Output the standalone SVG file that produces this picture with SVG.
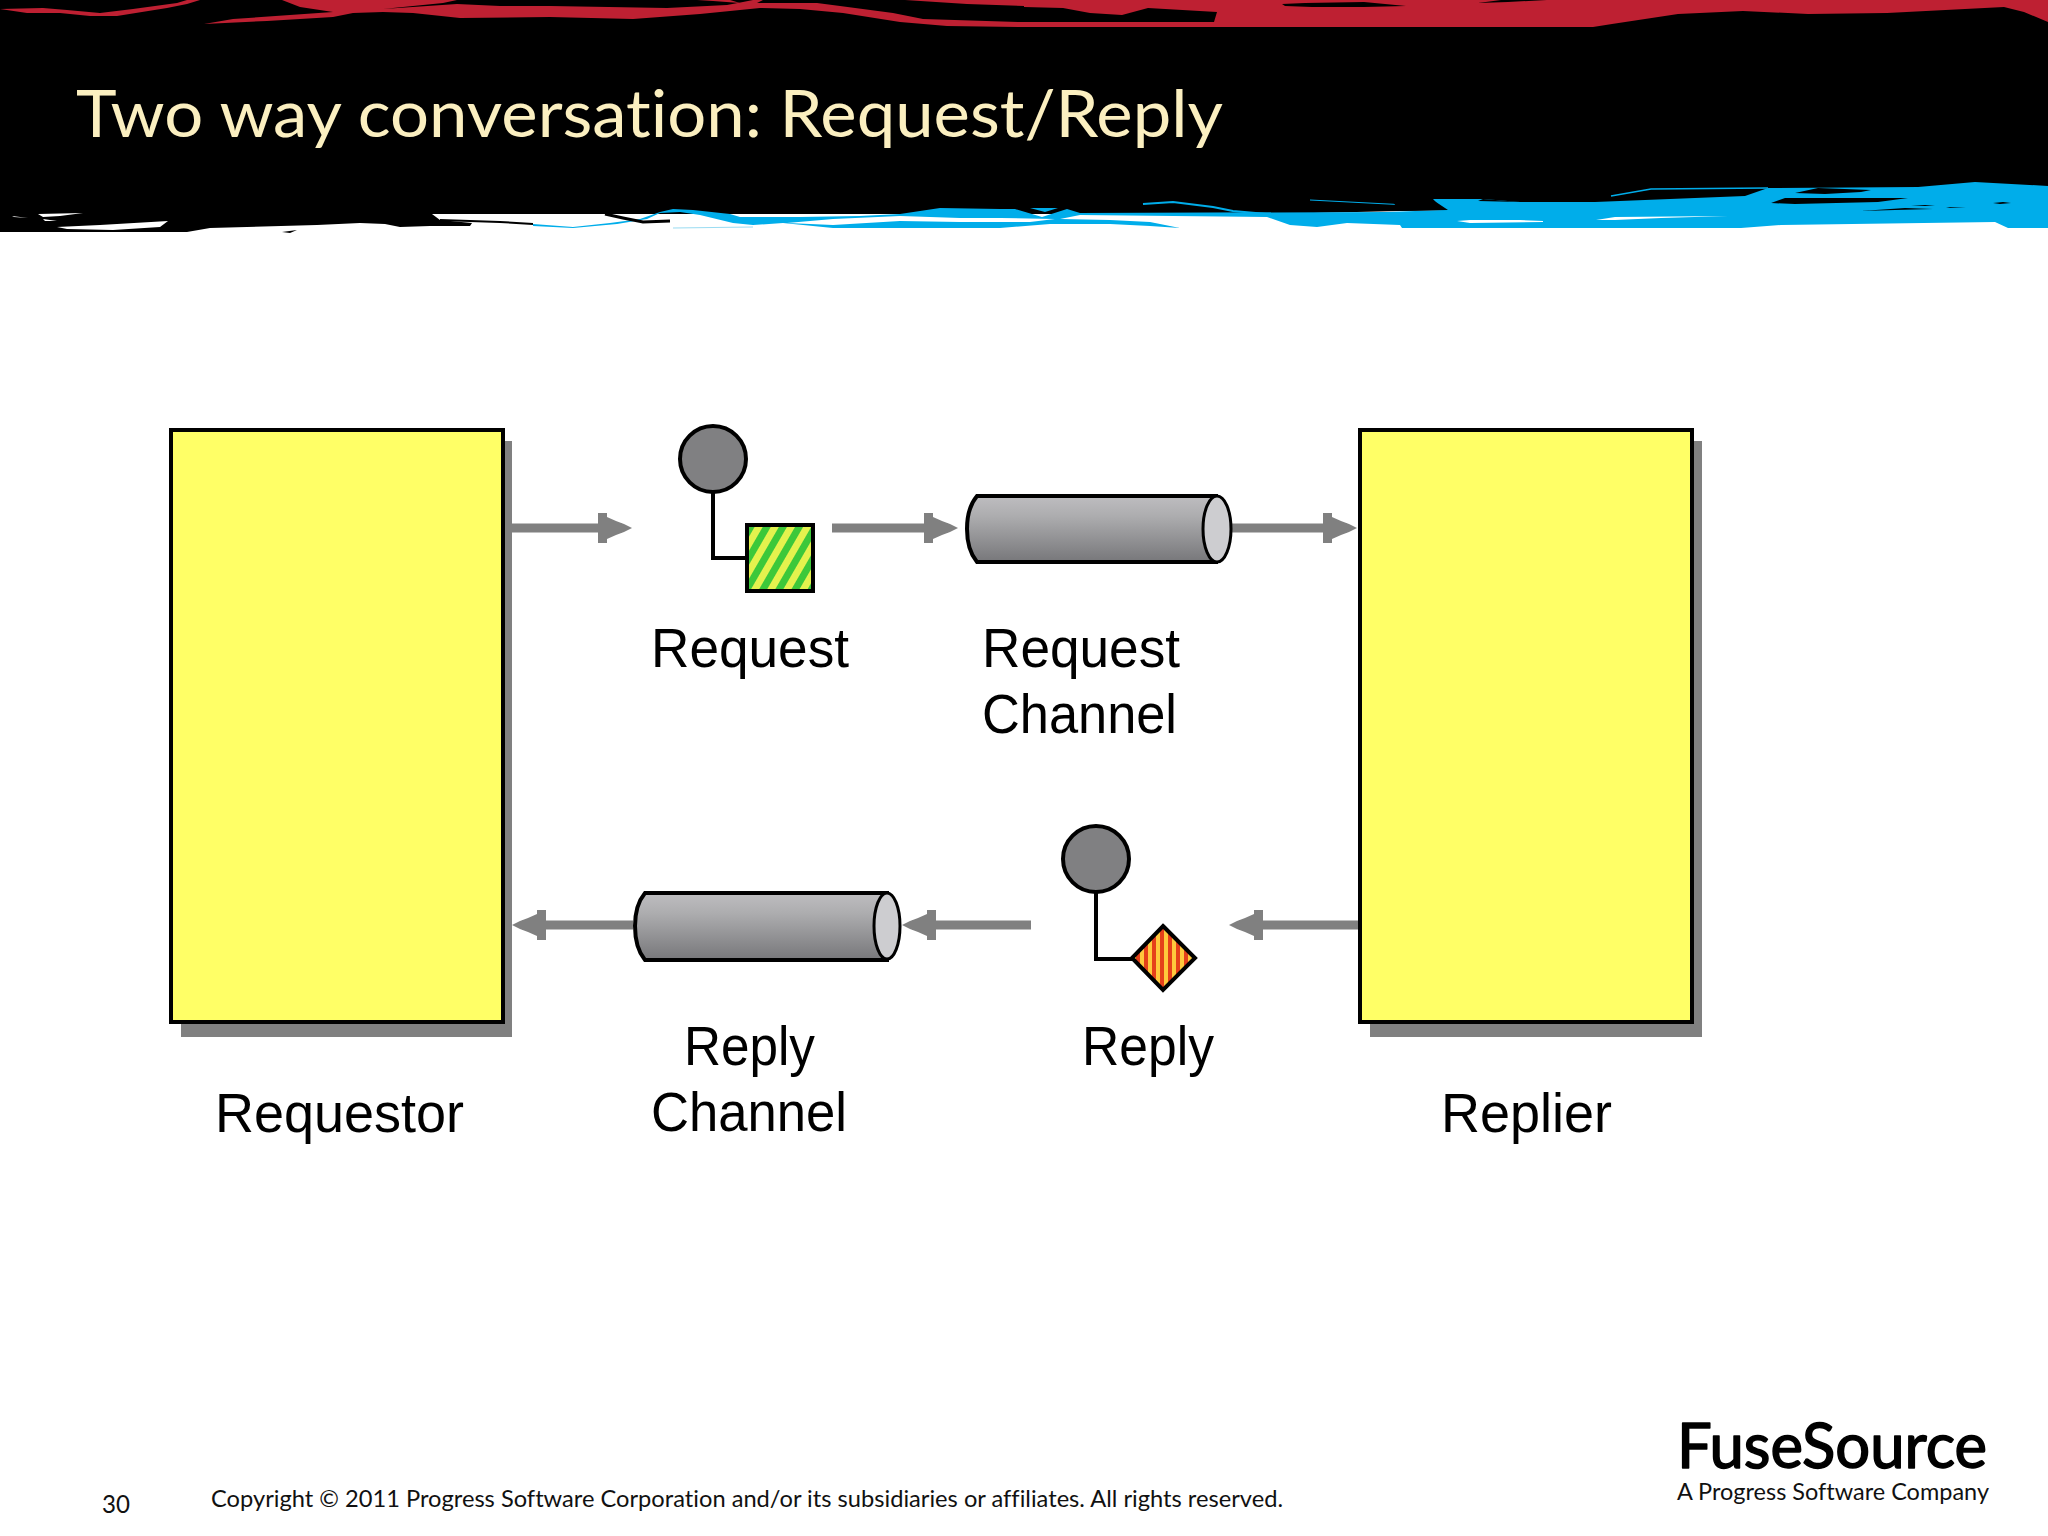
<svg xmlns="http://www.w3.org/2000/svg" width="2048" height="1536" viewBox="0 0 2048 1536">
<style>
text{font-variant-ligatures:none}
.box{fill:#FFFF66;stroke:#000;stroke-width:4}
.shadow{fill:#808080}
.thin{fill:none;stroke:#000;stroke-width:4}
.ball{fill:#808082;stroke:#000;stroke-width:4}
.tube{fill:url(#tube);stroke:#000;stroke-width:4}
.cap{fill:#CDCDD0;stroke:#000;stroke-width:3}
.conn{fill:none;stroke:#808080;stroke-width:9;marker-end:url(#head)}
.lbl{font-family:"Liberation Sans",Arial,sans-serif;font-size:55px;fill:#000}
.foot{font-family:Lato,"Liberation Sans",sans-serif;fill:#111}
.red{fill:#BE2032}
.blue{fill:#00ADEA}
.blk{fill:#000}
.wht{fill:#fff}
</style>
<defs>
<linearGradient id="tube" x1="0" y1="0" x2="0" y2="1"><stop offset="0" stop-color="#BEBDC0"/><stop offset="0.3" stop-color="#ADADAF"/><stop offset="1" stop-color="#77777A"/></linearGradient>
<pattern id="green" width="14" height="14" patternUnits="userSpaceOnUse" patternTransform="rotate(30)"><rect width="14" height="14" fill="#E4F24E"/><rect width="7" height="14" fill="#3CC83A"/></pattern>
<pattern id="orange" width="8" height="8" patternUnits="userSpaceOnUse"><rect width="8" height="8" fill="#FFC83C"/><rect width="4" height="8" fill="#E5401A"/></pattern>
<marker id="head" markerUnits="userSpaceOnUse" markerWidth="36" markerHeight="32" viewBox="0 0 36 32" refX="24" refY="16" orient="auto"><polygon points="0,1 9,1 9,5 18,9 26,12 34,16 26,20 18,23 9,27 9,31 0,31" fill="#808080"/></marker>
</defs>
<rect width="2048" height="1536" fill="#fff"/>
<g id="banner">
<path class="blk" d="M0 0H2048V200L1400 211 1267 214H432L440 220 472 223 470 226 430 226 400 227 385 224 360 223 317 225 210 228 187 232H0Z"/>
<path class="red" d="M0 9 43 8 67 10 100 13 133 9 177 3 187 0H200L187 4 167 8 117 16 90 16 60 13 27 13Z"/>
<path class="red" d="M282 0H457L443 3 383 9 457 4 500 6 550 6 667 8 727 5 743 2 753 0H763L757 3 817 3 840 6 893 13 923 19 1020 22 1024 22V27L947 26 900 22 843 13 800 9 760 8 700 14 633 19 550 17 460 18 413 13 383 12 353 13 333 17 267 21 204 24 233 19 333 12 300 7Z"/>
<path class="red" d="M697 0H730L740 3 713 1Z"/>
<path class="red" d="M905 0H1024V6L967 4Z"/>
<path class="red" d="M1024 0H2048V22L2024 12 2004 7 1887 13 1808 14 1743 11 1678 14 1612 24 1593 27H1024V22H1214L1217 12 1148 8 1122 15 1090 13 1063 8 1024 7Z"/>
<path class="blk" d="M1282 4 1305 3 1364 2 1406 6 1364 7 1312 7 1285 6ZM1478 3 1501 0H1547L1508 2Z"/>
<path class="blue" d="M533 224 573 227 610 223 640 219 660 212 673 209 693 210 730 214 740 217 800 217 860 216 900 214 940 208 1000 209 1015 209 1042 217 1067 209 1080 213 1387 212 1443 210 1433 199 1483 199 1520 202 1595 202 1745 196 1768 188 1918 187 1975 182 2048 186V228H2008L1995 222 1781 225 1741 228H1402L1400 225 1347 223 1317 227 1290 225 1267 217 1080 215 1060 219 1110 220 1150 222 1180 228 1150 226 1110 224 1050 224 1000 228H833L783 223 753 225 733 223 700 215 680 212 660 213 647 219 617 224 573 228 533 226Z"/>
<path class="blue" d="M1030 208H1058L1045 212Z"/>
<path class="wht" d="M787 223 833 219 900 216 960 218 1000 218 1055 219 1030 222 960 222 900 221 833 225Z"/>
<path class="blk" d="M1795 193 1818 188 1871 190 1861 192 1825 194ZM1771 203 1785 198 1908 198 1878 202 1795 204ZM1861 211 1905 208 1933 209 1895 210ZM1911 205H1935L1925 206ZM1946 207 1966 208 1950 208ZM1993 203 2003 202 2011 203 2000 204Z"/>
<path fill="none" stroke="#00ADEA" stroke-width="1.5" d="M1611 196 1651 189 1768 188"/>
<path fill="none" stroke="#00ADEA" stroke-width="2" d="M1143 204 1173 202 1213 207 1233 211 1267 214"/>
<path fill="none" stroke="#00ADEA" stroke-width="1" d="M1310 200 1427 206"/>
<path class="blk" d="M1392 201 1433 200 1448 210 1400 211ZM1483 199 1520 202 1478 201Z"/>
<path class="wht" d="M1457 221 1470 220 1520 220 1543 221 1543 222 1470 223ZM1596 220 1615 217 1728 216 1661 218 1615 220Z"/>
<path class="wht" d="M57 227 100 225 168 221 160 227 113 230 67 229ZM38 214 83 213 60 216 43 217ZM12 216 28 218 14 217ZM43 219 57 221 45 221Z"/>
<path class="blk" d="M282 232 297 230 290 233Z"/>
<path fill="none" stroke="#000" stroke-width="2" d="M440 220 500 222 533 224"/>
<path fill="none" stroke="#000" stroke-width="3" d="M605 214 623 218 643 222 670 221"/>
<path fill="none" stroke="#9ADCF2" stroke-width="1" d="M673 228 753 227"/>
</g>
<text x="76" y="137" font-family="Lato,Liberation Sans,sans-serif" font-size="66" fill="#FBEFC0" textLength="1147" lengthAdjust="spacingAndGlyphs">Two way conversation: Request/Reply</text>
<g id="connectors">
<path class="conn" d="M512 528H622"/>
<path class="conn" d="M832 528H948"/>
<path class="conn" d="M1230 528H1347"/>
<path class="conn" d="M633 925H522"/>
<path class="conn" d="M1031 925H912"/>
<path class="conn" d="M1358 925H1239"/>
</g>
<g id="requestor">
<rect class="shadow" x="181" y="441" width="331" height="596"/>
<rect class="box" x="171" y="430" width="332" height="592"/>
<text class="lbl" x="215" y="1132" textLength="249" lengthAdjust="spacingAndGlyphs">Requestor</text>
</g>
<g id="request">
<circle class="ball" cx="713" cy="459" r="33"/>
<path class="thin" d="M713 492V558H746"/>
<rect x="747" y="525" width="66" height="66" fill="url(#green)" stroke="#000" stroke-width="4"/>
<text class="lbl" x="651" y="667" textLength="198" lengthAdjust="spacingAndGlyphs">Request</text>
</g>
<g id="request-channel">
<path class="tube" d="M977 496H1216V562H977Q967 550 967 529 967 508 977 496Z"/>
<ellipse class="cap" cx="1217" cy="529" rx="14" ry="33"/>
<text class="lbl" x="982" y="667" textLength="198" lengthAdjust="spacingAndGlyphs">Request</text>
<text class="lbl" x="982" y="733" textLength="195" lengthAdjust="spacingAndGlyphs">Channel</text>
</g>
<g id="replier">
<rect class="shadow" x="1370" y="441" width="332" height="596"/>
<rect class="box" x="1360" y="430" width="332" height="592"/>
<text class="lbl" x="1441" y="1132" textLength="171" lengthAdjust="spacingAndGlyphs">Replier</text>
</g>
<g id="reply-channel">
<path class="tube" d="M645 893H887V960H645Q635 948 635 926 635 905 645 893Z"/>
<ellipse class="cap" cx="887" cy="926" rx="13" ry="33"/>
<text class="lbl" x="684" y="1065" textLength="131" lengthAdjust="spacingAndGlyphs">Reply</text>
<text class="lbl" x="651" y="1131" textLength="196" lengthAdjust="spacingAndGlyphs">Channel</text>
</g>
<g id="reply">
<circle class="ball" cx="1096" cy="859" r="33"/>
<path class="thin" d="M1096 892V959H1133"/>
<polygon points="1163,926 1195,958 1163,990 1132,958" fill="url(#orange)" stroke="#000" stroke-width="4"/>
<text class="lbl" x="1082" y="1065" textLength="132" lengthAdjust="spacingAndGlyphs">Reply</text>
</g>
<g id="footer">
<text class="foot" x="102" y="1513" font-size="25" textLength="28" lengthAdjust="spacingAndGlyphs">30</text>
<text class="foot" x="211" y="1507" font-size="23" textLength="1072" lengthAdjust="spacingAndGlyphs">Copyright © 2011 Progress Software Corporation and/or its subsidiaries or affiliates. All rights reserved.</text>
<text x="1677" y="1468" font-family="Lato,Liberation Sans,sans-serif" font-size="62" fill="#000" stroke="#000" stroke-width="1.5" stroke-linejoin="round" textLength="310" lengthAdjust="spacingAndGlyphs">FuseSource</text>
<text class="foot" x="1677" y="1500" font-size="23" textLength="312" lengthAdjust="spacingAndGlyphs">A Progress Software Company</text>
</g>
</svg>
